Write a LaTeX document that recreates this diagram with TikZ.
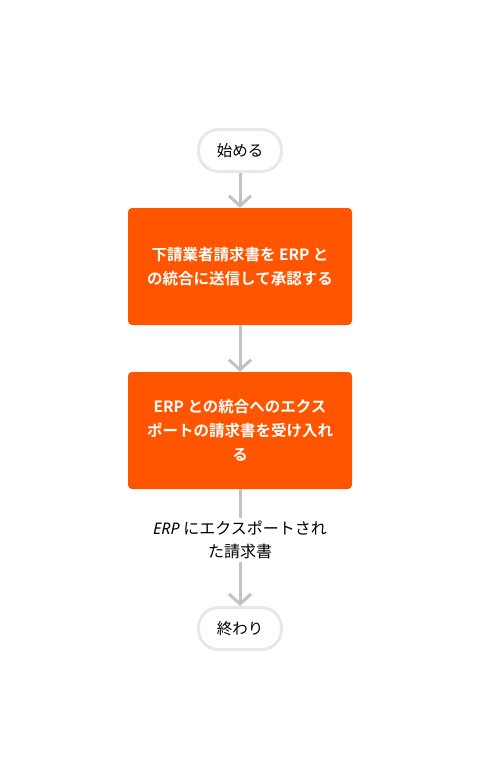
\documentclass[tikz,border=0pt]{standalone}
\usepackage{fontspec}
\setmainfont{Noto Sans CJK JP}[BoldFont={Noto Sans CJK JP Bold}]
\newfontfamily\erpfont{Noto Sans}
\usepackage{tikz}
\usetikzlibrary{arrows.meta,positioning}
\definecolor{flowred}{HTML}{FF5500}
\definecolor{flowgray}{HTML}{C2C2C2}
\definecolor{termline}{HTML}{E8E8E8}
\tikzset{
  termnode/.style={draw=termline, line width=3pt, rounded corners=20pt, fill=white,
    minimum width=83pt, minimum height=42pt, inner sep=0pt, font=\fontsize{15.5}{18}\selectfont},
  stepbox/.style={fill=flowred, rounded corners=4pt, text=white, align=center,
    minimum width=224pt, minimum height=117pt, inner sep=0pt,
    font=\fontsize{15.5}{24}\selectfont\bfseries},
  flowarrow/.style={draw=flowgray, line width=3pt, -{Straight Barb[length=10pt,width=22pt,line width=3pt]}},
  flowline/.style={draw=flowgray, line width=3pt}
}
\begin{document}
\begin{tikzpicture}[x=1pt, y=-1pt]
  \useasboundingbox (0,0) rectangle (480,780);
  \node[termnode] (start) at (240,150.5) {始める};
  \node[stepbox] (invoice) at (240,266.5) {下請業者請求書を ERP と\\の統合に送信して承認する};
  \node[stepbox] (accept) at (240,430.5) {ERP との統合へのエクス\\ポートの請求書を受け入れ\\る};
  \node[align=center, font=\fontsize{16}{23}\selectfont] (exported) at (240,540)
    {{\erpfont\itshape ERP} にエクスポートされ\\た請求書};
  \node[termnode] (finish) at (240,628.5) {終わり};
  \draw[flowarrow] (start) -- (invoice);
  \draw[flowarrow] (invoice) -- (accept);
  \draw[flowline] (accept) -- (exported);
  \draw[flowarrow] (exported) -- (finish);
\end{tikzpicture}
\end{document}
